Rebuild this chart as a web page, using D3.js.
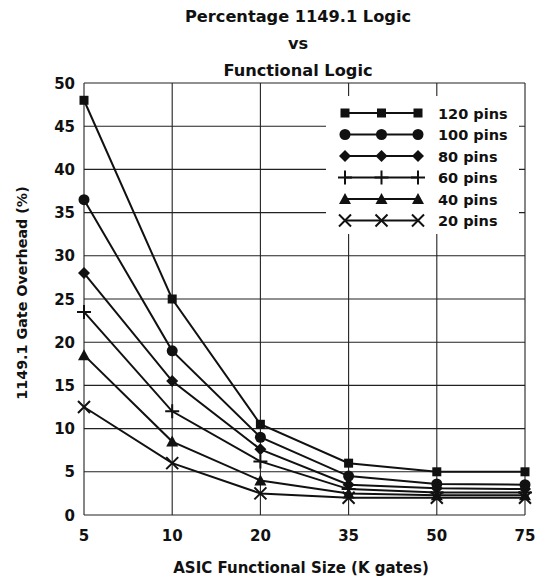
<!DOCTYPE html>
<html>
<head>
<meta charset="utf-8">
<script src="https://cdn.jsdelivr.net/npm/d3@7"></script>
<style>
  body { margin: 0; background: #fff; }
  text { font-family: "DejaVu Sans", sans-serif; font-weight: bold; fill: #111; }
</style>
</head>
<body>
<div id="chart"></div>
<script>
// data
const sizes = ["5", "10", "20", "35", "50", "75"];
const seriesNames = ["120 pins", "100 pins", "80 pins", "60 pins", "40 pins", "20 pins"];
const pins120 = [48, 25, 10.5, 6, 5, 5];
const pins100 = [36.5, 19, 9, 4.5, 3.6, 3.5];
const pins80 = [28, 15.5, 7.6, 3.5, 3.1, 3.0];
const pins60 = [23.5, 12, 6.2, 3.0, 2.6, 2.6];
const pins40 = [18.5, 8.5, 4, 2.5, 2.3, 2.3];
const pins20 = [12.5, 6, 2.5, 2, 2, 2];
const yTicks = [0, 5, 10, 15, 20, 25, 30, 35, 40, 45, 50];
const titleLines = ["Percentage 1149.1 Logic", "vs", "Functional Logic"];

const allSeries = [pins120, pins100, pins80, pins60, pins40, pins20];
const symbols = ["square", "circle", "diamond", "plus", "triangle", "cross"];

const width = 536, height = 579;
const margin = { top: 83, right: 11, bottom: 64, left: 84 };
const innerW = width - margin.left - margin.right;
const innerH = height - margin.top - margin.bottom;

const svg = d3.select("#chart").append("svg")
    .attr("width", width)
    .attr("height", height);

const g = svg.append("g")
    .attr("transform", `translate(${margin.left},${margin.top})`);

const x = d3.scalePoint().domain(sizes).range([0, innerW]);
const y = d3.scaleLinear().domain([0, 50]).range([innerH, 0]);

// gridlines
g.selectAll(".hgrid").data(yTicks).enter().append("line")
    .attr("x1", 0).attr("x2", innerW)
    .attr("y1", d => y(d)).attr("y2", d => y(d))
    .attr("stroke", "#222").attr("stroke-width", 1.1);
g.selectAll(".vgrid").data(sizes).enter().append("line")
    .attr("x1", d => x(d)).attr("x2", d => x(d))
    .attr("y1", 0).attr("y2", innerH)
    .attr("stroke", "#222").attr("stroke-width", 1.1);

// axes labels
g.selectAll(".ylab").data(yTicks).enter().append("text")
    .attr("x", -9).attr("y", d => y(d) + 5.5)
    .attr("text-anchor", "end")
    .style("font-size", "15px")
    .text(d => d);
g.selectAll(".xlab").data(sizes).enter().append("text")
    .attr("x", d => x(d)).attr("y", innerH + 26)
    .attr("text-anchor", "middle")
    .style("font-size", "15px")
    .text(d => d);

// titles
svg.selectAll(".title").data(titleLines).enter().append("text")
    .attr("x", 298).attr("y", (d, i) => 22 + i * 27)
    .attr("text-anchor", "middle")
    .style("font-size", "16.2px")
    .text(d => d);
svg.append("text")
    .attr("x", 301).attr("y", 573)
    .attr("text-anchor", "middle")
    .style("font-size", "15px")
    .text("ASIC Functional Size (K gates)");
svg.append("text")
    .attr("transform", "translate(27,293) rotate(-90)")
    .attr("text-anchor", "middle")
    .style("font-size", "14.3px")
    .text("1149.1 Gate Overhead (%)");

// marker drawing
function drawMarker(sel, type) {
    if (type === "square") {
        sel.append("rect").attr("x", -4.5).attr("y", -4.5).attr("width", 9).attr("height", 9).attr("fill", "#111");
    } else if (type === "circle") {
        sel.append("circle").attr("r", 5.5).attr("fill", "#111");
    } else if (type === "diamond") {
        sel.append("path").attr("d", "M0,-6L6,0L0,6L-6,0Z").attr("fill", "#111");
    } else if (type === "plus") {
        sel.append("path").attr("d", "M-7,0H7M0,-7V7").attr("stroke", "#111").attr("stroke-width", 2);
    } else if (type === "triangle") {
        sel.append("path").attr("d", "M0,-6L6,5L-6,5Z").attr("fill", "#111");
    } else {
        sel.append("path").attr("d", "M-6,-6L6,6M-6,6L6,-6").attr("stroke", "#111").attr("stroke-width", 2);
    }
}

const line = d3.line().x((d, i) => x(sizes[i])).y(d => y(d));

allSeries.forEach((vals, k) => {
    g.append("path")
        .attr("d", line(vals))
        .attr("fill", "none")
        .attr("stroke", "#111")
        .attr("stroke-width", 2);
    vals.forEach((v, i) => {
        const m = g.append("g").attr("transform", `translate(${x(sizes[i])},${y(v)})`);
        drawMarker(m, symbols[k]);
    });
});

// legend
const legend = svg.append("g");
legend.append("rect")
    .attr("x", 326).attr("y", 96).attr("width", 193).attr("height", 138)
    .attr("fill", "#fff");
seriesNames.forEach((name, k) => {
    const ly = 113 + k * 21.5;
    legend.append("line")
        .attr("x1", 345).attr("x2", 418).attr("y1", ly).attr("y2", ly)
        .attr("stroke", "#111").attr("stroke-width", 2);
    [345, 381.5, 418].forEach(lx => {
        drawMarker(legend.append("g").attr("transform", `translate(${lx},${ly})`), symbols[k]);
    });
    legend.append("text")
        .attr("x", 438).attr("y", ly + 5.5)
        .style("font-size", "14.5px")
        .text(name);
});
</script>
</body>
</html>
